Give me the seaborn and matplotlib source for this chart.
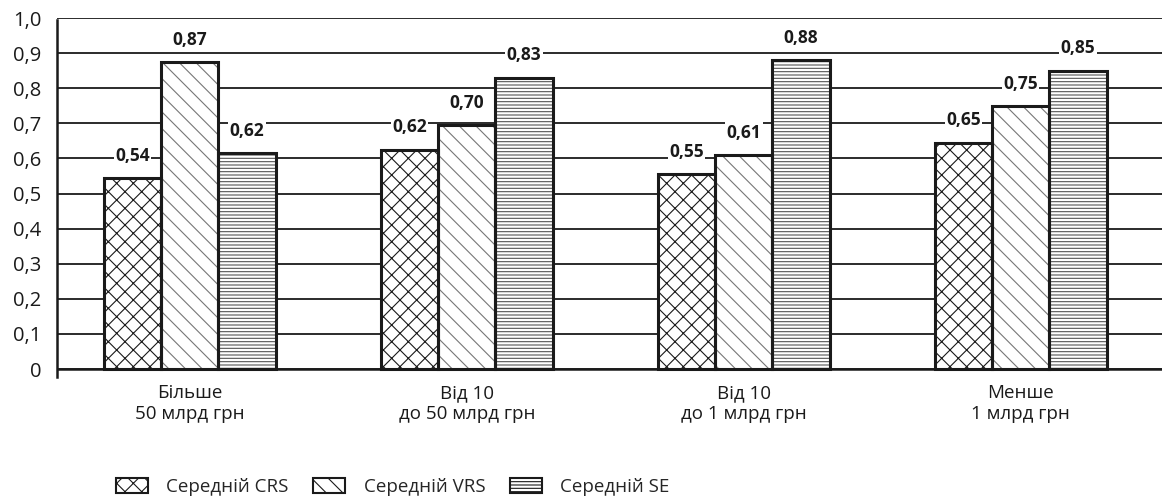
import pandas as pd
import matplotlib
matplotlib.use("Agg")
import matplotlib.pyplot as plt
import matplotlib.patches as mpatches
from matplotlib.ticker import FuncFormatter, MultipleLocator
import seaborn as sns

# дані
categories = ["Більше\n50 млрд грн", "Від 10\nдо 50 млрд грн", "Від 10\nдо 1 млрд грн", "Менше\n1 млрд грн"]
series = ["Середній CRS", "Середній VRS", "Середній SE"]
crs_values = [0.545, 0.625, 0.555, 0.645]
vrs_values = [0.875, 0.695, 0.61, 0.75]
se_values = [0.615, 0.83, 0.88, 0.85]
crs_labels = ["0,54", "0,62", "0,55", "0,65"]
vrs_labels = ["0,87", "0,70", "0,61", "0,75"]
se_labels = ["0,62", "0,83", "0,88", "0,85"]
hatches = ["xx", "\\\\", "-----"]
hatch_colors = ["#1a1a1a", "#777777", "#555555"]

df = pd.DataFrame({
    "category": categories * 3,
    "series": [series[0]] * 4 + [series[1]] * 4 + [series[2]] * 4,
    "value": crs_values + vrs_values + se_values,
})

sns.set_style("white")
plt.rcParams["font.family"] = ["Open Sans", "DejaVu Sans"]
plt.rcParams["hatch.linewidth"] = 0.8

fig = plt.figure(figsize=(11.62, 5.01), dpi=100)
ax = fig.add_axes([0.049, 0.2475, 0.951, 0.7165])

sns.barplot(data=df, x="category", y="value", hue="series", order=categories,
            hue_order=series, color="white", width=0.62, gap=0, ax=ax,
            legend=False, errorbar=None, saturation=1)

all_labels = [crs_labels, vrs_labels, se_labels]
for cont, h, hc, labs in zip(ax.containers, hatches, hatch_colors, all_labels):
    for bar, lab in zip(cont, labs):
        # шар штрихування (колір штриха = edgecolor)
        bar.set_facecolor("white")
        bar.set_edgecolor(hc)
        bar.set_linewidth(0)
        bar.set_hatch(h)
        bar.set_zorder(3)
        # контур поверх
        ax.add_patch(mpatches.Rectangle((bar.get_x(), 0), bar.get_width(), bar.get_height(),
                                        facecolor="none", edgecolor="#1a1a1a", linewidth=2.2, zorder=4))
        ax.annotate(lab, (bar.get_x() + bar.get_width() / 2, bar.get_height()),
                    xytext=(0, 16), textcoords="offset points", ha="center", va="center",
                    fontsize=12.5, fontweight="bold", color="#1a1a1a", zorder=5,
                    bbox=dict(facecolor="white", edgecolor="none", pad=1))

ax.set_xlim(-0.48, 3.51)
ax.set_ylim(-0.0228, 1.0)
ax.yaxis.set_major_locator(MultipleLocator(0.1))
ax.yaxis.set_major_formatter(FuncFormatter(lambda v, p: "0" if abs(v) < 1e-9 else f"{v:.1f}".replace(".", ",")))
ax.grid(axis="y", color="#1a1a1a", linewidth=1.3, zorder=0)
ax.set_axisbelow(True)
ax.axhline(0, color="#1a1a1a", linewidth=1.8, zorder=4)

for s in ["top", "right", "bottom"]:
    ax.spines[s].set_visible(False)
ax.spines["left"].set_color("#1a1a1a")
ax.spines["left"].set_linewidth(1.8)
ax.spines["left"].set_bounds(-0.0228, 0.995)

ax.tick_params(axis="y", direction="out", length=7, width=1.3, colors="#1a1a1a", labelsize=14.5, pad=4)
ax.tick_params(axis="x", length=0, labelsize=13.5, colors="#1a1a1a", pad=5)
ax.set_xlabel("")
ax.set_ylabel("")

handles = [mpatches.Patch(facecolor="white", edgecolor="#1a1a1a", hatch=h, linewidth=1.5, label=s)
           for h, s in zip(hatches, series)]
fig.legend(handles=handles, loc="center", bbox_to_anchor=(0.338, 0.028), ncol=3, frameon=False,
           fontsize=13.5, handlelength=1.7, handleheight=0.8, handletextpad=1.0, columnspacing=1.3)

plt.savefig("out.png", dpi=100)
plt.close()
